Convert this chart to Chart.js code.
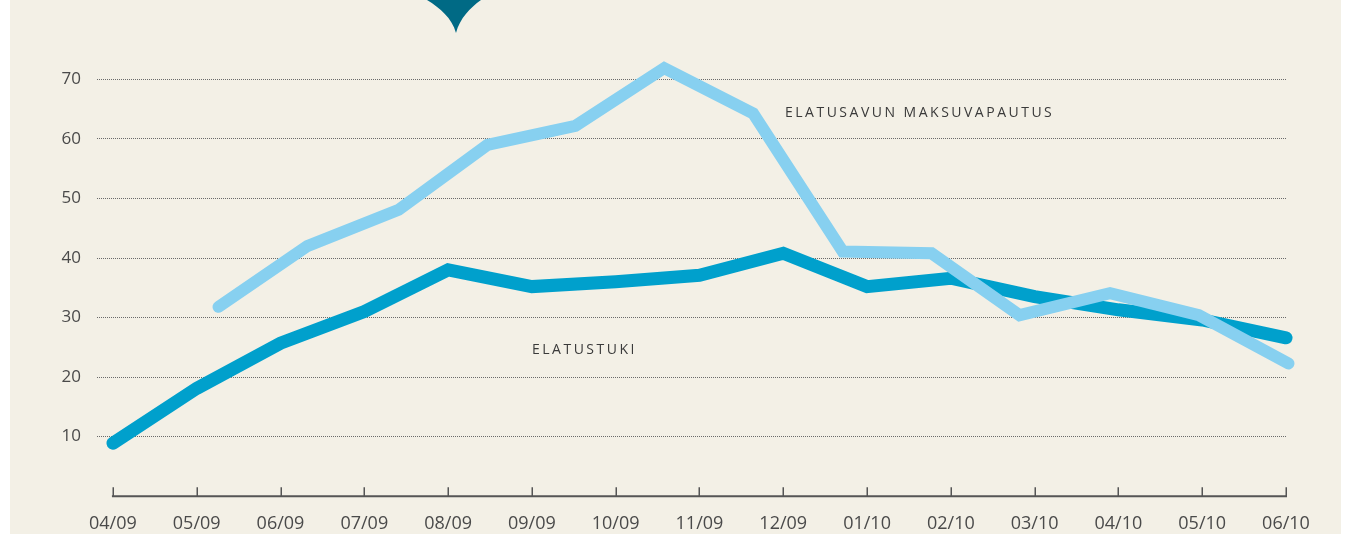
<!DOCTYPE html>
<html>
<head>
<meta charset="utf-8">
<script src="https://cdn.jsdelivr.net/npm/chart.js@4.4.1/dist/chart.umd.min.js"></script>
<style>
    html, body { margin: 0; padding: 0; background: #ffffff; }
    #panel {
        position: absolute; left: 10px; top: 0; width: 1331px; height: 534px;
        background: #f3f0e6; overflow: hidden;
    }
    #chart { position: absolute; left: 0; top: 0; }
    .series-label {
        position: absolute; font-family: "Open Sans", sans-serif; font-size: 14px;
        letter-spacing: 2.5px; color: #3a3a3a; white-space: nowrap; line-height: 1;
    }
    #marker { position: absolute; left: 0; top: 0; }
</style>
</head>
<body>
<div id="panel">
    <canvas id="chart" width="1331" height="534"></canvas>
    <svg id="marker" width="1331" height="40">
        <path d="M417,0 C430,8 442,18 446,33 C450,18 460,8 471,0 Z" fill="#006a85"/>
    </svg>
    <div class="series-label" style="left:775px; top:105px;">ELATUSAVUN MAKSUVAPAUTUS</div>
    <div class="series-label" style="left:522px; top:342px;">ELATUSTUKI</div>
</div>
<script>
// kuukaudet 04/09 - 06/10
const months = ['04/09', '05/09', '06/09', '07/09', '08/09', '09/09', '10/09', '11/09',
    '12/09', '01/10', '02/10', '03/10', '04/10', '05/10', '06/10'];

// elatustuki, yksi arvo per kuukausi
const elatustuki = [8.9, 18.1, 25.7, 31.0, 38.0, 35.2, 36.0, 37.1, 40.8, 35.2, 36.6, 33.5, 31.3, 29.6, 26.6];

// elatusavun maksuvapautus: pisteet eivät osu kuukausien kohdalle
const vapautusX = [1.26, 2.32, 3.41, 4.47, 5.52, 6.58, 7.64, 8.71, 9.77, 10.82, 11.90, 12.96, 14.03];
const vapautusY = [31.8, 42.0, 48.1, 59.0, 62.2, 71.9, 64.3, 41.1, 40.8, 30.4, 34.1, 30.4, 22.3];

const yTicks = [10, 20, 30, 40, 50, 60, 70];

// x-akselin viiva ja pystytikit ylöspäin
const axisPlugin = {
    id: 'axisLine',
    afterDraw(chart) {
        const ctx = chart.ctx;
        const xs = chart.scales.x;
        const y0 = chart.scales.y.getPixelForValue(0);
        ctx.save();
        ctx.strokeStyle = '#555555';
        ctx.lineWidth = 2;
        ctx.beginPath();
        ctx.moveTo(xs.getPixelForValue(0) - 1, y0);
        ctx.lineTo(xs.getPixelForValue(months.length - 1) + 1, y0);
        ctx.stroke();
        ctx.lineWidth = 1.5;
        months.forEach((m, i) => {
            const px = Math.round(xs.getPixelForValue(i)) + 0.25;
            ctx.beginPath();
            ctx.moveTo(px, y0);
            ctx.lineTo(px, y0 - 9);
            ctx.stroke();
        });
        ctx.restore();
    }
};

const ctx = document.getElementById('chart').getContext('2d');
new Chart(ctx, {
    type: 'line',
    data: {
        datasets: [
            {
                label: 'ELATUSAVUN MAKSUVAPAUTUS',
                data: vapautusX.map((x, i) => ({ x: x, y: vapautusY[i] })),
                borderColor: '#87d0f0',
                borderWidth: 12,
                borderCapStyle: 'round',
                borderJoinStyle: 'miter',
                pointRadius: 0,
                tension: 0,
                fill: false,
                clip: false,
                order: 0
            },
            {
                label: 'ELATUSTUKI',
                data: elatustuki.map((v, i) => ({ x: i, y: v })),
                borderColor: '#00a0cc',
                borderWidth: 13,
                borderCapStyle: 'round',
                borderJoinStyle: 'miter',
                pointRadius: 0,
                tension: 0,
                fill: false,
                clip: false,
                order: 1
            }
        ]
    },
    options: {
        responsive: false,
        animation: false,
        layout: { padding: { top: 49.6, right: 55, left: 0, bottom: 0 } },
        plugins: {
            legend: { display: false },
            tooltip: { enabled: false }
        },
        scales: {
            x: {
                type: 'linear',
                min: -0.19,
                max: 14,
                grid: { display: false },
                border: { display: false },
                ticks: {
                    stepSize: 1,
                    padding: 9,
                    color: '#4a4a4a',
                    font: { family: 'Open Sans', size: 18 },
                    maxRotation: 0,
                    autoSkip: false,
                    callback: v => months[v]
                },
                afterBuildTicks: scale => {
                    scale.ticks = months.map((m, i) => ({ value: i }));
                },
                afterFit: scale => { scale.height = 37.8; }
            },
            y: {
                min: 0,
                max: 75,
                grid: {
                    color: '#6a6a6a',
                    lineWidth: 1,
                    drawTicks: false
                },
                border: { display: false, dash: [1, 1] },
                ticks: {
                    padding: 16,
                    color: '#4a4a4a',
                    font: { family: 'Open Sans', size: 17 },
                    callback: v => String(v)
                },
                afterBuildTicks: scale => {
                    scale.ticks = yTicks.map(v => ({ value: v }));
                },
                afterFit: scale => { scale.width = 87; }
            }
        }
    },
    plugins: [axisPlugin]
});
</script>
</body>
</html>
